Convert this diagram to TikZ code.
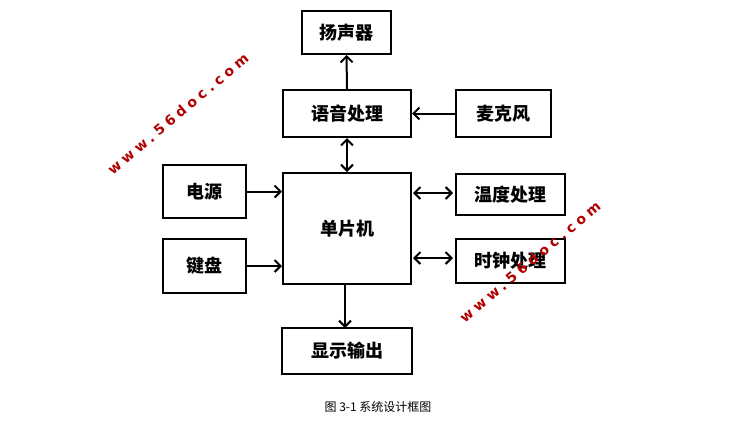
\documentclass[tikz,border=0pt]{standalone}
\usepackage{fontspec}
\newfontfamily\cjk{Noto Sans CJK SC}
\newfontfamily\wmfont{DejaVu Sans}[LetterSpace=30]
\usetikzlibrary{arrows.meta}
\begin{document}
\begin{tikzpicture}[x=1pt,y=-1pt,
  box/.style={draw,line width=2pt,inner sep=0pt,font=\cjk\bfseries\fontsize{18}{20}\selectfont},
  tip/.style={},
  conn/.style={line width=2pt,-{Straight Barb[length=6pt,width=12pt,line width=2pt]}},
  biconn/.style={line width=2pt,{Straight Barb[length=6pt,width=12pt,line width=2pt]}-{Straight Barb[length=6pt,width=12pt,line width=2pt]}},
  wm/.style={text=red!70!black,font=\wmfont\bfseries\fontsize{14}{14}\selectfont,rotate=40}]
\useasboundingbox (0,0) rectangle (744,437);
\fill[white] (0,0) rectangle (744,437);
\node[box,minimum width=89pt,minimum height=43pt] (spk) at (346.5,32.5) {扬声器};
\node[box,minimum width=128pt,minimum height=47pt] (voice) at (347,113.5) {语音处理};
\node[box,minimum width=95pt,minimum height=47pt] (mic) at (503.5,113.5) {麦克风};
\node[box,minimum width=128pt,minimum height=111pt] (mcu) at (347,228.5) {单片机};
\node[box,minimum width=83pt,minimum height=53pt] (pwr) at (204.5,191.5) {电源};
\node[box,minimum width=83pt,minimum height=54pt] (kbd) at (204.5,266) {键盘};
\node[box,minimum width=109pt,minimum height=41pt] (temp) at (510.5,194.5) {温度处理};
\node[box,minimum width=109pt,minimum height=44pt] (clk) at (510.5,261) {时钟处理};
\node[box,minimum width=130pt,minimum height=46pt] (disp) at (347,351) {显示输出};
\node[font=\cjk\fontsize{12}{14}\selectfont] (cap) at (378,407) {图 3-1 系统设计框图};
\coordinate (tL) at (413,193);
\coordinate (tR) at (453,193);
\coordinate (cL) at (413,258);
\coordinate (cR) at (453,258);
\coordinate (dT) at (345,284);
\coordinate (dB) at (345,328);
\draw[conn] (voice.north) -- (spk.south);
\draw[conn] (mic.west) -- (voice.east);
\draw[biconn] (mcu.north) -- (voice.south);
\draw[conn] (pwr.east) -- (mcu.west |- pwr.east);
\draw[conn] (kbd.east) -- (mcu.west |- kbd.east);
\draw[biconn] (tL) -- (tR);
\draw[biconn] (cL) -- (cR);
\draw[conn] (dT) -- (dB);
\node[wm] (wm1) at (178,114) {www.56doc.com};
\node[wm] (wm2) at (530,262) {www.56doc.com};
\end{tikzpicture}
\end{document}
